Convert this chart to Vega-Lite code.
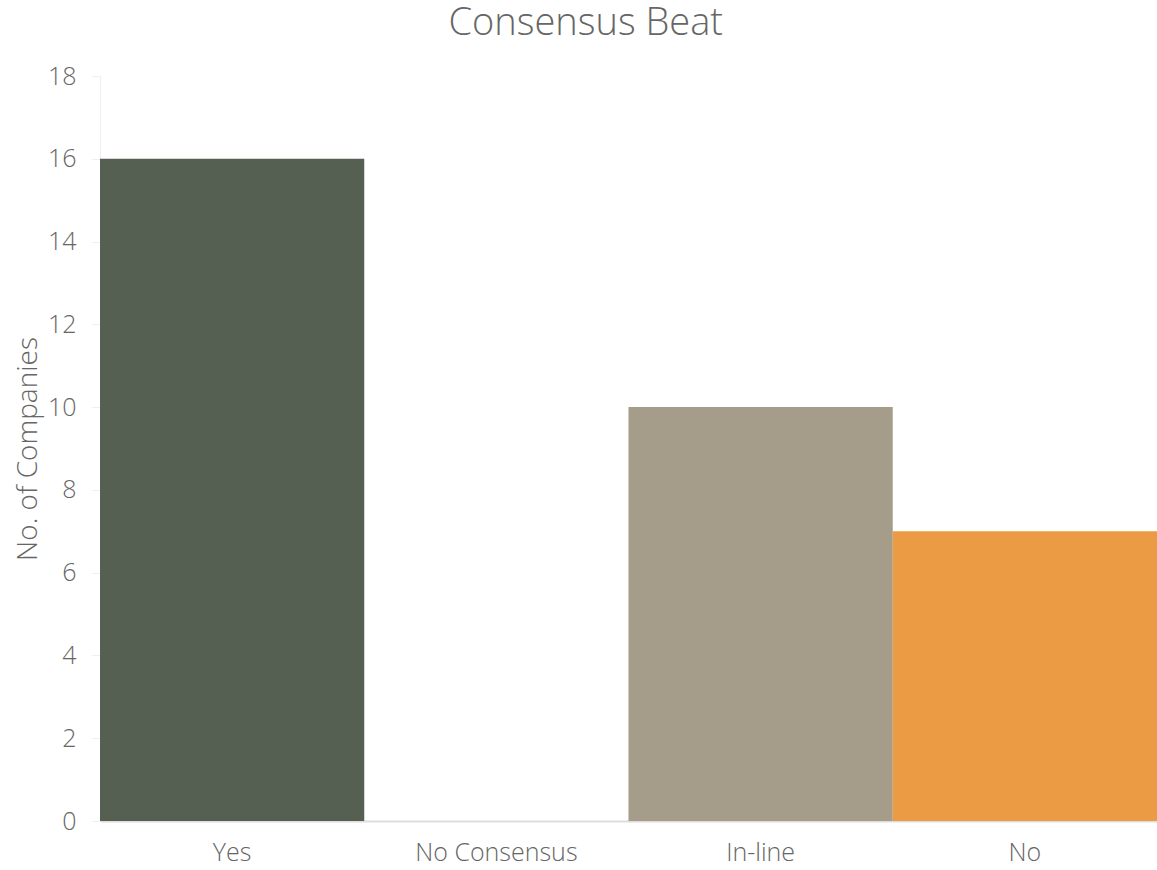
{
  "$schema": "https://vega.github.io/schema/vega-lite/v6.json",
  "autosize": {"type": "fit", "contains": "padding"},
  "width": 1157,
  "height": 870,
  "padding": {"left": 14, "top": 5, "right": 0, "bottom": 5},
  "title": {
    "text": "Consensus Beat",
    "anchor": "middle",
    "frame": "bounds",
    "font": "Open Sans",
    "fontWeight": 300,
    "fontSize": 38,
    "color": "#666666",
    "offset": 21
  },
  "data": {
    "values": [
      {"category": "Yes", "count": 16},
      {"category": "No Consensus", "count": 0},
      {"category": "In-line", "count": 10},
      {"category": "No", "count": 7}
    ]
  },
  "mark": {"type": "bar"},
  "encoding": {
    "x": {
      "field": "category",
      "type": "nominal",
      "sort": null,
      "scale": {"paddingInner": 0, "paddingOuter": 0},
      "axis": {
        "title": null,
        "labelAngle": 0,
        "labelFont": "Open Sans",
        "labelFontWeight": 300,
        "labelFontSize": 25,
        "labelColor": "#666666",
        "labelPadding": 19,
        "ticks": false,
        "domainColor": "#dddddd",
        "domainWidth": 2
      }
    },
    "y": {
      "field": "count",
      "type": "quantitative",
      "scale": {"domain": [0, 18]},
      "axis": {
        "title": "No. of Companies",
        "titleFont": "Open Sans",
        "titleFontWeight": 300,
        "titleFontSize": 28,
        "titleColor": "#666666",
        "titlePadding": 5,
        "values": [0, 2, 4, 6, 8, 10, 12, 14, 16, 18],
        "labelFont": "Open Sans",
        "labelFontWeight": 300,
        "labelFontSize": 25,
        "labelColor": "#666666",
        "labelPadding": 16,
        "tickColor": "#eeeeee",
        "tickSize": 8,
        "domainColor": "#eeeeee",
        "grid": false
      }
    },
    "color": {
      "field": "category",
      "type": "nominal",
      "scale": {
        "domain": ["Yes", "No Consensus", "In-line", "No"],
        "range": ["#555f52", "#bbbbbb", "#a59c8a", "#eb9b43"]
      },
      "legend": null
    }
  },
  "config": {"view": {"stroke": null}}
}
